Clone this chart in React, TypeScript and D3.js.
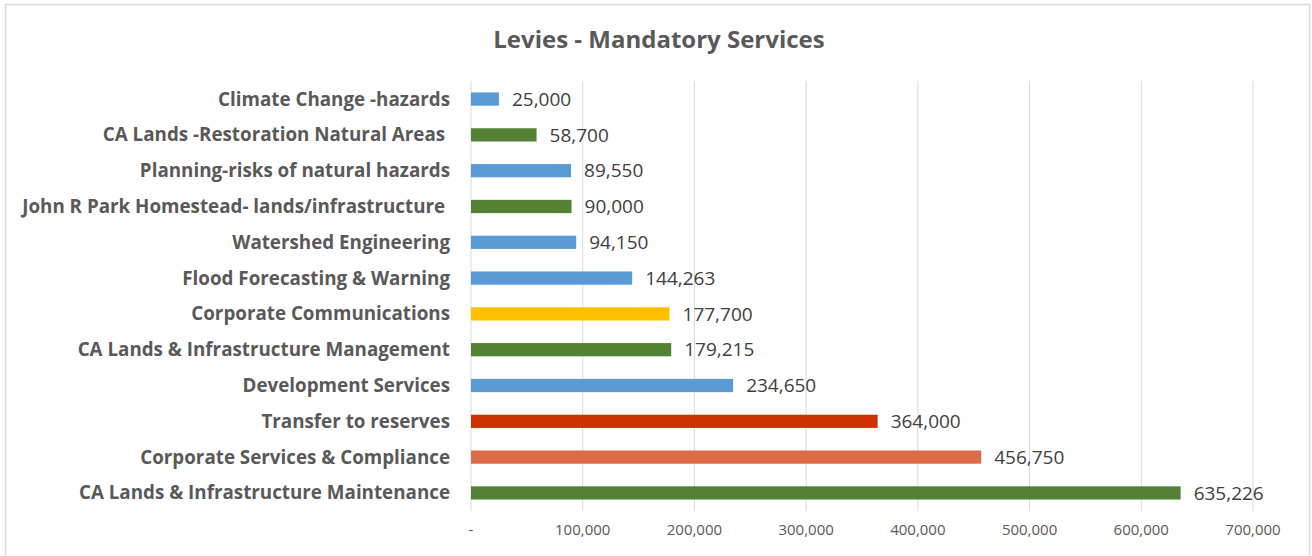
import React from "react";
import * as d3 from "d3";

// categories top -> bottom
const categories = [
  "Climate Change -hazards",
  "CA Lands -Restoration Natural Areas ",
  "Planning-risks of natural hazards",
  "John R Park Homestead- lands/infrastructure ",
  "Watershed Engineering",
  "Flood Forecasting & Warning",
  "Corporate Communications",
  "CA Lands & Infrastructure Management",
  "Development Services",
  "Transfer to reserves",
  "Corporate Services & Compliance",
  "CA Lands & Infrastructure Maintenance",
];
const values = [25000, 58700, 89550, 90000, 94150, 144263, 177700, 179215, 234650, 364000, 456750, 635226];
const barColors = [
  "#5b9bd5", "#548235", "#5b9bd5", "#548235", "#5b9bd5", "#5b9bd5",
  "#ffc000", "#548235", "#5b9bd5", "#cc3300", "#dd6b4a", "#548235",
];
const xTicks = [0, 100000, 200000, 300000, 400000, 500000, 600000, 700000];

const W = 1312, H = 556;
const left = 471, right = 1253, top = 81, bottom = 511;
const font = "'Open Sans', sans-serif";

const App = () => {
  const x = d3.scaleLinear().domain([0, 700000]).range([left, right]);
  const y = d3.scaleBand().domain(categories).range([top, bottom]).paddingInner(0.63).paddingOuter(0.32);
  const fmt = d3.format(",");

  return (
    <svg width={W} height={H} style={{ position: "absolute", left: 0, top: 0, background: "#fff" }}>
      <rect x={5.5} y={4.5} width={1304} height={600} fill="#fff" stroke="#d9d9d9" strokeWidth={1.5} />
      <text x={659} y={48} textAnchor="middle" fontFamily={font} fontWeight="bold" fontSize={24} fill="#595959">
        Levies - Mandatory Services
      </text>
      {xTicks.map((t) => (
        <line key={t} x1={x(t)} x2={x(t)} y1={top} y2={bottom} stroke="#d9d9d9" strokeWidth={1} />
      ))}
      {xTicks.map((t) => (
        <text key={"l" + t} x={x(t)} y={535} textAnchor="middle" fontFamily={font} fontSize={15} fill="#595959">
          {t === 0 ? "-" : fmt(t)}
        </text>
      ))}
      {categories.map((c, i) => (
        <g key={c}>
          <rect x={x(0)} y={y(c)} width={x(values[i]) - x(0)} height={y.bandwidth()} fill={barColors[i]} />
          <text x={x(values[i]) + 13} y={(y(c) as number) + y.bandwidth() / 2} dy="0.35em"
            fontFamily={font} fontSize={19} fill="#404040">
            {fmt(values[i])}
          </text>
          <text x={450} y={(y(c) as number) + y.bandwidth() / 2} dy="0.35em" textAnchor="end"
            fontFamily={font} fontWeight="bold" fontSize={18.8} fill="#595959" style={{ whiteSpace: "pre" }}>
            {c}
          </text>
        </g>
      ))}
    </svg>
  );
};

export default App;
